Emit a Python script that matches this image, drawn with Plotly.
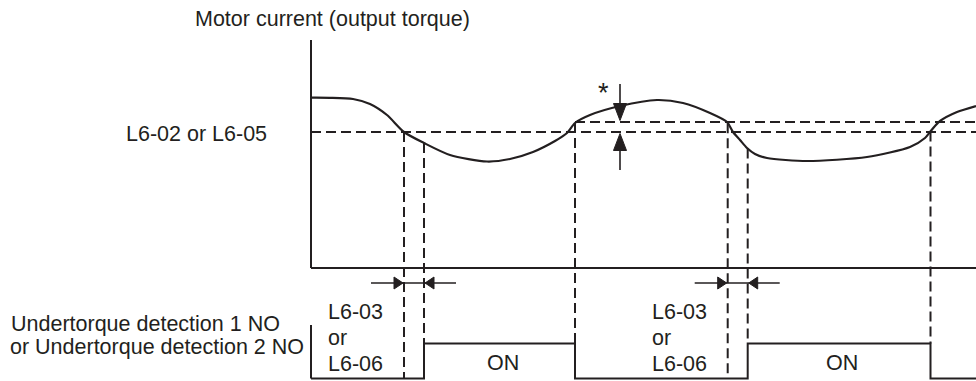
import numpy as np
import plotly.graph_objects as go

# ---------------------------------------------------------------
# Data: motor current over time, detection levels and timings
# ---------------------------------------------------------------
time = [0, 19, 42, 59, 76, 93, 113, 139, 176, 199, 222, 244, 256, 264,
        279, 309, 346, 372, 399, 416, 422, 429, 436, 444, 456, 496, 556,
        599, 614, 619, 624, 629, 646, 665]
current = [170.3, 170.2, 169, 164, 153, 136, 125, 113, 106.5, 109, 116, 127,
           135, 145, 153, 162, 168, 165, 155, 146, 136, 128, 120, 114, 110,
           107, 111, 121, 130, 136, 142, 147, 156, 162]

LEVEL_LOW = 136        # L6-02 / L6-05 undertorque level
LEVEL_HIGH = 146       # release level (hysteresis band)

t_below = [93, 416.7]  # current falls under the level
t_on = [113, 436.7]    # output turns ON after L6-03 / L6-06
t_off = [264, 619.5]   # output turns OFF again
t_end = 665
t_hyst = 309           # where the hysteresis band "*" is marked

signal_labels = ["L6-03", "or", "L6-06"]

# ---------------------------------------------------------------
# Geometry of the drawing (1 unit = 1 px)
# ---------------------------------------------------------------
W, H = 976, 381
X0, Y0 = 311, 268                # origin of the current/time plane
SIG_BASE, SIG_H = Y0 - 378.5, 35  # signal baseline and pulse height
INK = "#231f20"
LW = 2
DASH = "10px,5px"
FONT = dict(family="Liberation Sans, Arial, sans-serif", size=21.5, color=INK)


def sig(v):
    return SIG_BASE + v * SIG_H


def level_at(t):
    return float(np.interp(t, time, current))


fig = go.Figure()


def line(xs, ys, dash=None, width=LW):
    fig.add_trace(go.Scatter(x=xs, y=ys, mode="lines",
                             line=dict(color=INK, width=width, dash=dash),
                             hoverinfo="skip", showlegend=False))


def head(tip_x, tip_y, dx, dy, length, half):
    # filled triangular arrowhead; (dx, dy) is the pointing direction
    bx, by = tip_x - dx * length, tip_y - dy * length
    px_, py_ = -dy * half, dx * half
    fig.add_trace(go.Scatter(x=[tip_x, bx + px_, bx - px_, tip_x],
                             y=[tip_y, by + py_, by - py_, tip_y],
                             mode="lines", fill="toself", fillcolor=INK,
                             line=dict(color=INK, width=1),
                             hoverinfo="skip", showlegend=False))


# axes of the current plot
line([0, 0], [Y0 - 40, 0])
line([0, t_end], [0, 0])

# detection levels
line([0, t_end], [LEVEL_LOW, LEVEL_LOW], dash=DASH)
line([t_off[0], t_end], [LEVEL_HIGH, LEVEL_HIGH], dash=DASH)

# motor current
fig.add_trace(go.Scatter(x=time, y=current, mode="lines",
                         line=dict(color=INK, width=2.2, shape="spline",
                                   smoothing=0.7),
                         hoverinfo="skip", showlegend=False))

# timing guides
for tb, tn, tf in zip(t_below, t_on, t_off):
    line([tb, tb], [level_at(tb), sig(0)], dash=DASH)
    line([tn, tn], [level_at(tn), sig(1)], dash=DASH)
    line([tf, tf], [level_at(tf), sig(1)], dash=DASH)

# output signal
sx, sy = [0], [sig(0)]
for tn, tf in zip(t_on, t_off):
    sx += [tn, tn, tf, tf]
    sy += [sig(0), sig(1), sig(1), sig(0)]
sx.append(t_end)
sy.append(sig(0))
line(sx, sy)
line([0, 0], [sig(0), sig(1.53)])

# delay-time arrows
ARROW_Y = Y0 - 283
for tb, tn in zip(t_below, t_on):
    line([tb - 33, tn + 32], [ARROW_Y, ARROW_Y], width=1.6)
    head(tb - 1, ARROW_Y, 1, 0, 9, 6)
    head(tn + 1, ARROW_Y, -1, 0, 9, 6)

# hysteresis arrows
line([t_hyst, t_hyst], [Y0 - 84, LEVEL_HIGH + 4], width=1.6)
head(t_hyst, LEVEL_HIGH + 1.5, 0, -1, 17, 6.5)
line([t_hyst, t_hyst], [LEVEL_LOW - 4, Y0 - 170], width=1.6)
head(t_hyst, LEVEL_LOW - 1.5, 0, 1, 17, 6.5)


def text(s, x, y, xanchor="left", size=None):
    font = dict(FONT, size=size) if size else FONT
    fig.add_annotation(text=s, x=x / W, y=1 - y / H, xref="paper",
                       yref="paper", xanchor=xanchor, yanchor="middle",
                       showarrow=False, font=font)


text("Motor current (output torque)", 193, 19)
text("L6-02 or L6-05", 124, 134)
text("Undertorque detection 1 NO", 9, 324)
text("or Undertorque detection 2 NO", 8, 347)
for tn in t_on:
    x = X0 + tn - 98
    for i, s in enumerate(signal_labels):
        text(s, x, 312 + 26 * i)
for tn, tf in zip(t_on, t_off):
    text("ON", X0 + (tn + tf) / 2 + 3, 363, xanchor="center")
text("*", X0 + t_hyst - 17, 93, xanchor="center", size=27)

fig.update_layout(
    width=W, height=H, margin=dict(l=0, r=0, t=0, b=0),
    paper_bgcolor="white", plot_bgcolor="white",
    xaxis=dict(range=[-X0, W - X0], visible=False, fixedrange=True),
    yaxis=dict(range=[Y0 - H, Y0], visible=False, fixedrange=True),
)

fig.write_html("out.html")
